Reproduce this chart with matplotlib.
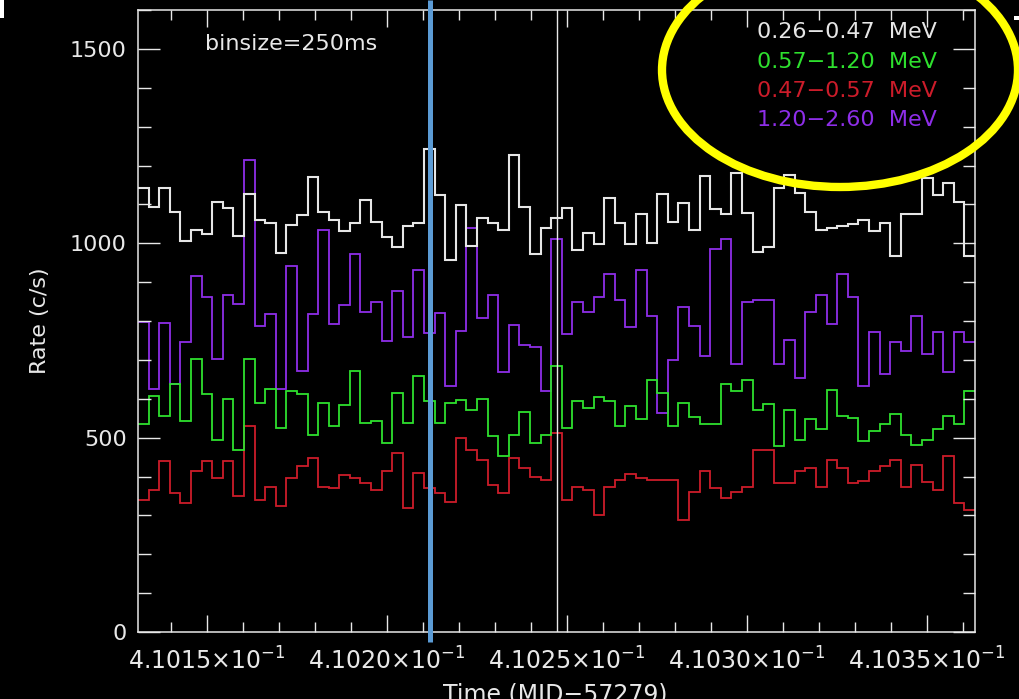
import numpy as np
import matplotlib
matplotlib.use('Agg')
import matplotlib.pyplot as plt
from matplotlib.ticker import MultipleLocator, FuncFormatter
from matplotlib.patches import Ellipse, Rectangle
from matplotlib.lines import Line2D

# light curves, rate in c/s per time bin
rate_026_047 = [1141, 1094, 1141, 1081, 1005, 1035, 1025, 1107, 1090, 1018,
                1127, 1061, 1053, 975, 1047, 1072, 1170, 1081, 1061, 1032,
                1053, 1111, 1055, 1015, 991, 1044, 1051, 1242, 1124, 958,
                1098, 992, 1066, 1051, 1034, 1228, 1094, 973, 1038, 1064,
                1090, 982, 1027, 999, 1116, 1053, 999, 1075, 1001, 1127,
                1055, 1104, 1035, 1172, 1087, 1075, 1180, 1077, 978, 991,
                1141, 1176, 1128, 1081, 1035, 1038, 1044, 1049, 1059, 1032,
                1053, 966, 1075, 1075, 1167, 1124, 1154, 1107, 966]
rate_057_120 = [534, 607, 556, 637, 542, 702, 613, 495, 599, 469,
                702, 590, 624, 525, 620, 611, 508, 588, 530, 585,
                672, 538, 542, 486, 616, 538, 659, 594, 538, 590,
                596, 570, 599, 504, 452, 508, 567, 486, 508, 685,
                525, 594, 577, 604, 594, 530, 581, 547, 648, 616,
                530, 588, 553, 534, 534, 639, 620, 648, 570, 586,
                478, 572, 495, 547, 521, 622, 556, 551, 491, 518,
                536, 560, 508, 482, 495, 521, 556, 534, 620]
rate_047_057 = [340, 366, 441, 357, 331, 413, 441, 396, 440, 349,
                529, 340, 374, 323, 396, 428, 447, 374, 370, 404,
                396, 383, 366, 413, 460, 318, 409, 370, 357, 335,
                499, 469, 443, 379, 357, 447, 421, 400, 391, 512,
                340, 374, 366, 301, 374, 391, 407, 396, 391, 391,
                391, 288, 361, 413, 370, 344, 361, 374, 469, 469,
                383, 383, 413, 421, 374, 443, 421, 383, 389, 413,
                426, 443, 374, 430, 387, 366, 452, 331, 313]
rate_120_260 = [797, 624, 794, 639, 745, 917, 861, 703, 866, 844,
                1213, 788, 818, 624, 941, 672, 818, 1035, 792, 842,
                973, 822, 848, 749, 878, 759, 932, 770, 820, 633,
                775, 1038, 809, 868, 668, 790, 739, 734, 620, 1012,
                766, 848, 822, 861, 922, 854, 785, 930, 813, 564,
                699, 835, 788, 710, 984, 1012, 689, 848, 853, 853,
                689, 750, 653, 822, 866, 792, 922, 861, 633, 771,
                663, 745, 723, 813, 715, 771, 668, 771, 745]

band_labels = ['0.26\u22120.47  MeV', '0.57\u22121.20  MeV',
               '0.47\u22120.57  MeV', '1.20\u22122.60  MeV']
band_colors = ['#e6e6e6', '#2ee02e', '#cc1c2a', '#8e2ee8']

t_start = 0.4101308        # MJD-57279
t_stop = 0.4103633
t_mark = 0.4102472
nbin = len(rate_026_047)
edges = t_start + (t_stop - t_start) / nbin * np.arange(nbin + 1)

W, H = 1019, 699
fig = plt.figure(figsize=(W / 100, H / 100), dpi=100, facecolor='black')
ax = fig.add_axes([138 / W, 1 - 632 / H, 837 / W, 622 / H])
ax.set_facecolor('black')

fg = '#e8e8e8'
ax.stairs(rate_120_260, edges, baseline=None, color=band_colors[3], lw=1.3)
ax.stairs(rate_047_057, edges, baseline=None, color=band_colors[2], lw=1.3)
ax.stairs(rate_057_120, edges, baseline=None, color=band_colors[1], lw=1.3)
ax.stairs(rate_026_047, edges, baseline=None, color=band_colors[0], lw=1.5)
ax.axvline(t_mark, color=fg, lw=1.0)

ax.set_xlim(t_start, t_stop)
ax.set_ylim(0, 1600)

for s in ax.spines.values():
    s.set_color(fg)
    s.set_linewidth(1.1)

ax.xaxis.set_major_locator(MultipleLocator(5e-5))
ax.xaxis.set_minor_locator(MultipleLocator(1e-5))
ax.yaxis.set_major_locator(MultipleLocator(500))
ax.yaxis.set_minor_locator(MultipleLocator(100))
ax.xaxis.set_major_formatter(FuncFormatter(
    lambda v, p: '%.4f' % (v * 10) + r'$\times$10$^{-1}$'))
ax.tick_params(which='both', direction='in', top=True, right=True,
               colors=fg, labelsize=16, width=1)
ax.tick_params(axis='y', which='major', length=16, pad=8)
ax.tick_params(axis='y', which='minor', length=9)
ax.tick_params(axis='x', which='major', length=12, pad=11, labelsize=17)
ax.tick_params(axis='x', which='minor', length=7)

ax.set_ylabel('Rate (c/s)', color=fg, fontsize=16)
ax.yaxis.set_label_coords(-0.105, 0.5)
ax.set_xlabel('Time (MJD\u221257279)', color=fg, fontsize=17)
ax.xaxis.set_label_coords(0.498, -0.082)

ax.text(0.080, 0.9357, 'binsize=250ms', transform=ax.transAxes,
        color=fg, fontsize=16, ha='left', va='baseline')
for k, (lab, col) in enumerate(zip(band_labels, band_colors)):
    ax.text(0.9546, [0.955, 0.907, 0.860, 0.814][k], lab, transform=ax.transAxes,
            color=col, fontsize=16, ha='right', va='baseline')

# highlight marks drawn over the plot
fig.add_artist(Line2D([430 / W, 430 / W], [1, 1 - 642 / H], transform=fig.transFigure,
                      color='#5b9bd5', lw=3.6, solid_capstyle='butt'))
fig.add_artist(Ellipse((840 / W, 1 - 70 / H), 356 / W, 234 / H, transform=fig.transFigure,
                       fill=False, ec='#ffff00', lw=6))
fig.add_artist(Rectangle((0, 1 - 18 / H), 4 / W, 18 / H, transform=fig.transFigure,
                         fc='white', ec='none'))
fig.add_artist(Rectangle((1014 / W, 1 - 20 / H), 5 / W, 4 / H, transform=fig.transFigure,
                         fc='white', ec='none'))

fig.savefig('out.png', dpi=100, facecolor='black')
